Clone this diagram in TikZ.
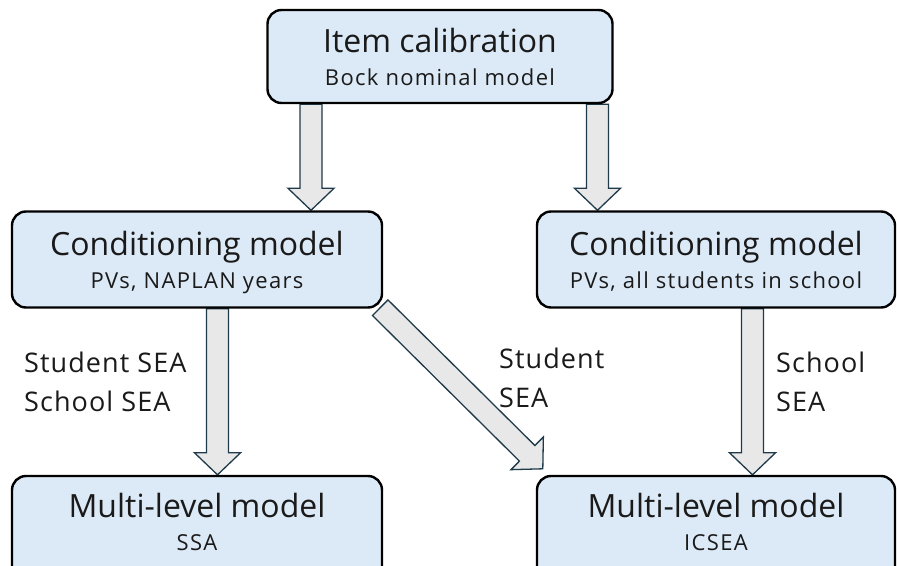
\documentclass[tikz,border=0pt]{standalone}
\usepackage{fontspec}
\setmainfont{Open Sans}
\newfontfamily\subfont{Open Sans}[LetterSpace=6]
\newfontfamily\lblfont{Open Sans}[LetterSpace=4]
\usetikzlibrary{calc,backgrounds}
\definecolor{boxfill}{HTML}{DCE9F6}
\definecolor{arrowfill}{HTML}{E8E8E8}
\definecolor{arrowline}{HTML}{1F3A4A}
\definecolor{ink}{HTML}{1A1A1A}
\tikzset{
  model/.style={draw=black, line width=2.4pt, fill=boxfill, rounded corners=14pt,
    align=center, text=ink, inner sep=0pt, font=\subfont\fontsize{22}{33}\selectfont},
  fat/.style={draw=arrowline, line width=1.3pt, fill=arrowfill, line join=miter},
  lbl/.style={align=left, text=ink, anchor=west, inner sep=0pt,
    font=\lblfont\fontsize{27}{39}\selectfont},
}
\newcommand{\titletext}[1]{{\rmfamily\fontsize{32}{33}\selectfont #1}}
% block arrow from #1 to #2
\newcommand{\fatarrow}[2]{%
  \coordinate (hb) at ($(#2)!22pt!(#1)$);
  \draw[fat] ($(#1)!11pt!90:(#2)$) -- ($(hb)!11pt!90:(#2)$) -- ($(hb)!23pt!90:(#2)$)
    -- (#2) -- ($(hb)!23pt!-90:(#2)$) -- ($(hb)!11pt!-90:(#2)$)
    -- ($(#1)!11pt!-90:(#2)$) -- cycle;}
\begin{document}
\begin{tikzpicture}[x=1pt,y=-1pt]
  \useasboundingbox (0,0) rectangle (897,565);
  \clip (0,0) rectangle (897,565);

  % models
  \node[model, minimum width=345pt, minimum height=93pt] (item) at (440,56.5)
    {\titletext{Item calibration}\\Bock nominal model};
  \node[model, minimum width=370pt, minimum height=96pt, text depth=0pt] (cl) at (197,259.5)
    {\titletext{Conditioning model}\\PVs, NAPLAN years};
  \node[model, minimum width=358pt, minimum height=96pt, text depth=0pt] (cr) at (716,259.5)
    {\titletext{Conditioning model}\\PVs, all students in school};
  \node[model, minimum width=370pt, minimum height=104pt, text depth=13pt] (ml) at (197,528)
    {\titletext{Multi-level model}\\SSA};
  \node[model, minimum width=358pt, minimum height=104pt, text depth=13pt] (mr) at (716,528)
    {\titletext{Multi-level model}\\ICSEA};

  % arrows
  \coordinate (a1s) at (item.south -| 311,0);
  \coordinate (a1e) at (cl.north -| 311,0);
  \coordinate (a2s) at (item.south -| 597.5,0);
  \coordinate (a2e) at (cr.north -| 597.5,0);
  \coordinate (a3s) at (cl.south -| 217.5,0);
  \coordinate (a3e) at (ml.north -| 217.5,0);
  \coordinate (a4s) at (cr.south -| 752.5,0);
  \coordinate (a4e) at (mr.north -| 752.5,0);
  \coordinate (a5s) at ($(cl.south east)+(-3,-1)$);
  \coordinate (a5e) at ($(mr.north west)+(7,-6)$);
  \begin{scope}[on background layer]
    \fatarrow{a1s}{a1e}
    \fatarrow{a2s}{a2e}
    \fatarrow{a3s}{a3e}
    \fatarrow{a4s}{a4e}
  \end{scope}
  \fatarrow{a5s}{a5e}

  % labels
  \node[lbl] (lsea) at (24,381.5) {Student SEA\\School SEA};
  \node[lbl] (msea) at (499,378) {Student\\SEA};
  \node[lbl] (rsea) at (776,381.5) {School\\SEA};
\end{tikzpicture}
\end{document}
